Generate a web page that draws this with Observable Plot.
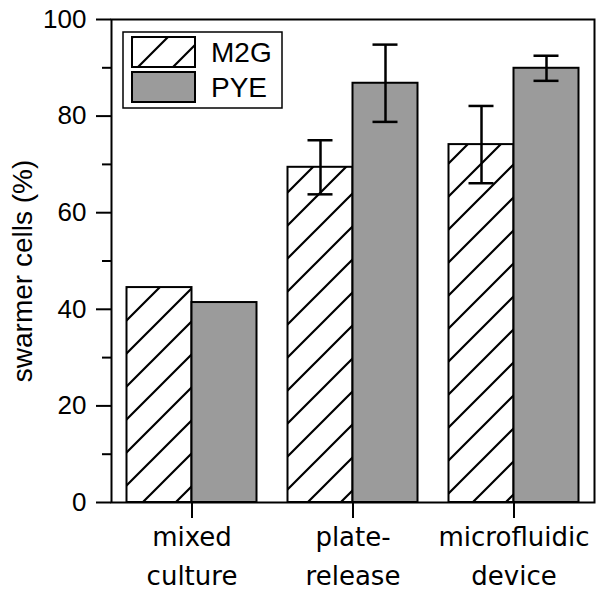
<!DOCTYPE html>
<html><head><meta charset="utf-8">
<script src="https://cdn.jsdelivr.net/npm/d3@7"></script>
<script src="https://cdn.jsdelivr.net/npm/@observablehq/plot@0.6"></script>
<style>
body{margin:0;background:#fff} svg{display:block}
g[aria-label="x-axis tick label"]{font-family:'DejaVu Sans',sans-serif;font-size:26px}
g[aria-label="y-axis tick label"]{font-size:26px}
</style>
</head><body><div id="chart"></div>
<script>
const categories = ["mixed culture", "plate-release", "microfluidic device"];
const categoryLabels = ["mixed\nculture", "plate-\nrelease", "microfluidic\ndevice"];
const series = ["M2G", "PYE"];
const m2gValues = [44.5, 69.4, 74.1];
const m2gErrors = [0, 5.6, 8.0];
const pyeValues = [41.4, 86.8, 89.9];
const pyeErrors = [0, 8.0, 2.6];
const yTicks = [0, 20, 40, 60, 80, 100];
const yMinorTicks = [10, 30, 50, 70, 90];
const yLabel = "swarmer cells (%)";

const m2gRows = categories.map((c, i) => ({category: c, series: series[0], value: m2gValues[i], err: m2gErrors[i]}));
const pyeRows = categories.map((c, i) => ({category: c, series: series[1], value: pyeValues[i], err: pyeErrors[i]}));
const gray = "#9b9b9b";
const off = 32.5;

function errMarks(rows, dx) {
  const r = rows.filter(d => d.err > 0);
  return [
    Plot.ruleX(r, {x: "category", y1: d => d.value - d.err, y2: d => d.value + d.err, dx, stroke: "black", strokeWidth: 2.5}),
    Plot.tickY(r, {x: "category", y: d => d.value + d.err, dx, insetLeft: 68, insetRight: 68, stroke: "black", strokeWidth: 2.5}),
    Plot.tickY(r, {x: "category", y: d => d.value - d.err, dx, insetLeft: 68, insetRight: 68, stroke: "black", strokeWidth: 2.5})
  ];
}

const chart = Plot.plot({
  width: 600, height: 590,
  marginLeft: 111, marginRight: 6, marginTop: 19, marginBottom: 88,
  style: {fontFamily: "'Liberation Sans', Arial, sans-serif", fontSize: "27px", color: "black", background: "white"},
  x: {type: "band", domain: categories, padding: 0},
  y: {domain: [0, 100]},
  marks: [
    Plot.barY(m2gRows, {x: "category", y: "value", fill: "url(#hatch)", stroke: "black", strokeWidth: 2, insetLeft: 15.5, insetRight: 80.5}),
    Plot.barY(pyeRows, {x: "category", y: "value", fill: gray, stroke: "black", strokeWidth: 2, insetLeft: 80.5, insetRight: 15.5}),
    ...errMarks(m2gRows, -off),
    ...errMarks(pyeRows, off),
    Plot.frame({stroke: "black", strokeWidth: 2}),
    Plot.axisY({ticks: yTicks, tickSize: 15, tickPadding: 10, strokeWidth: 2, label: null}),
    Plot.axisY({ticks: yMinorTicks, tickSize: 9, text: null, label: null, strokeWidth: 2}),
    Plot.axisX({tickSize: 16, tickPadding: 0, strokeWidth: 2, lineHeight: 1.5, label: null,
      tickFormat: c => categoryLabels[categories.indexOf(c)]}),
    Plot.text([yLabel], {text: d => d, frameAnchor: "left", textAnchor: "middle", lineAnchor: "middle",
      rotate: -90, dx: -88, dy: 10, fontSize: 28})
  ]
});

const svg = d3.select(chart);
const defs = svg.insert("defs", ":first-child");
function hatch(id, size, shift) {
  const p = defs.append("pattern").attr("id", id).attr("patternUnits", "userSpaceOnUse")
    .attr("width", size).attr("height", size).attr("patternTransform", `translate(${shift},0)`);
  p.append("rect").attr("width", size).attr("height", size).attr("fill", "white");
  p.append("path").attr("d", `M-3,${size + 3} L${size + 3},-3 M-3,3 L3,-3 M${size - 3},${size + 3} L${size + 3},${size - 3}`)
    .attr("stroke", "black").attr("stroke-width", 2.2);
}
hatch("hatch", 33, 18);
hatch("hatchLegend", 35, 30);

const lg = svg.append("g");
lg.append("rect").attr("x", 123).attr("y", 32).attr("width", 159).attr("height", 76)
  .attr("fill", "white").attr("stroke", "black").attr("stroke-width", 1.5);
series.forEach((s, i) => {
  lg.append("rect").attr("x", 132).attr("y", 37 + 35 * i).attr("width", 63).attr("height", 30)
    .attr("fill", i === 0 ? "url(#hatchLegend)" : gray).attr("stroke", "black").attr("stroke-width", 2);
  lg.append("text").attr("x", 211).attr("y", 52 + 35 * i).attr("dy", "0.35em")
    .attr("text-anchor", "start").attr("font-size", 28).attr("fill", "black").text(s);
});

document.getElementById("chart").append(chart);
</script>
</body></html>
